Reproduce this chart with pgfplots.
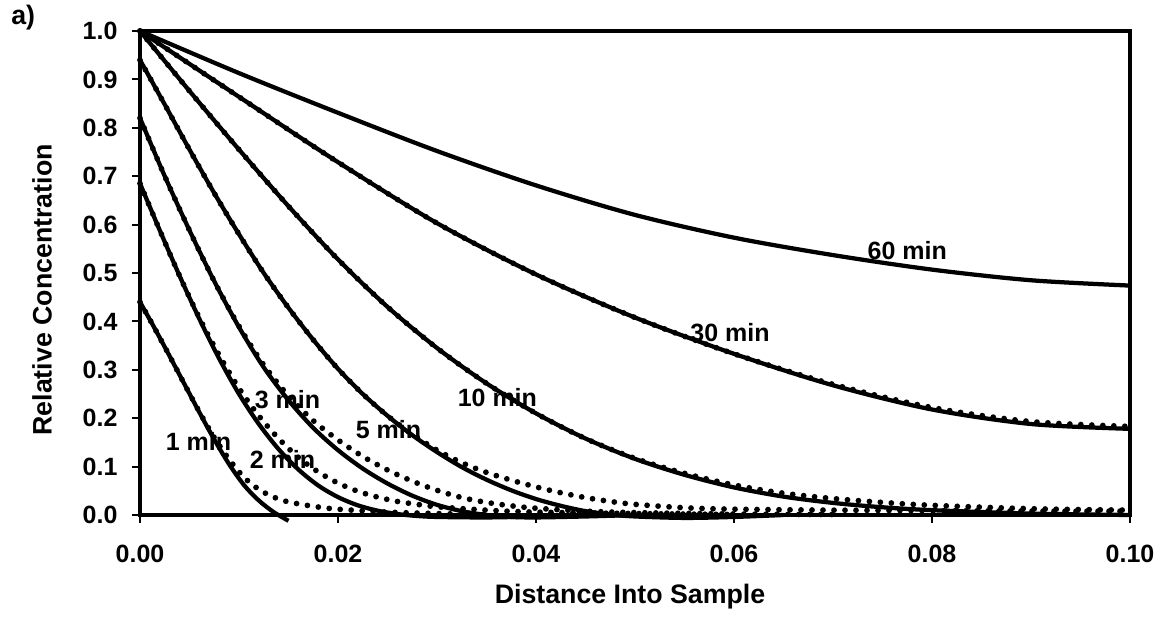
\documentclass[border=0pt]{standalone}
\usepackage{fontspec}
\setmainfont{Liberation Sans}
\usepackage{pgfplots}
\pgfplotsset{compat=1.18}
\begin{document}
\begin{tikzpicture}[font=\bfseries]
\begin{axis}[
  at={(0,0)}, anchor=south west,
  scale only axis, width=396pt, height=193.6pt,
  xmin=0, xmax=0.1, ymin=0, ymax=1,
  xtick={0,0.02,0.04,0.06,0.08,0.1},
  ytick={0,0.1,0.2,0.3,0.4,0.5,0.6,0.7,0.8,0.9,1},
  scaled x ticks=false, scaled y ticks=false,
  /pgf/number format/assume math mode=true,
  xticklabel style={/pgf/number format/fixed, /pgf/number format/fixed zerofill, /pgf/number format/precision=2, yshift=-5.5pt},
  yticklabel style={/pgf/number format/fixed, /pgf/number format/fixed zerofill, /pgf/number format/precision=1, xshift=-2.5pt},
  tick label style={font=\fontsize{10}{12}\selectfont\bfseries},
  tick align=outside, major tick length=3pt,
  xtick pos=bottom, ytick pos=left,
  tick style={line width=0.8pt, black},
  axis line style={line width=1.3pt},
  clip=false,
  xlabel={Distance Into Sample},
  ylabel={Relative Concentration},
  label style={font=\fontsize{10.7}{12}\selectfont\bfseries},
  xlabel style={at={(axis description cs:0.495,-0.169)}, anchor=center},
  ylabel style={at={(axis description cs:-0.099,0.465)}, anchor=center},
  every axis plot/.append style={black, smooth, tension=0.5},
  dots/.style={line width=2.3pt, line cap=round, dash pattern=on 0pt off 4.4pt},
  sol/.style={line width=1.7pt},
]
% ---------- dotted series ----------
\addplot[dots] coordinates {(0,0.44)(0.0015,0.385)(0.003,0.328)(0.0045,0.27)(0.006,0.213)(0.0075,0.16)(0.009,0.115)(0.0105,0.078)(0.012,0.053)(0.0135,0.037)(0.015,0.027)(0.0175,0.018)(0.02,0.012)(0.025,0.006)(0.03,0.003)(0.035,0.001)};
\addplot[dots] coordinates {(0,0.685)(0.002,0.588)(0.004,0.494)(0.006,0.407)(0.008,0.33)(0.01,0.262)(0.012,0.205)(0.014,0.158)(0.016,0.119)(0.018,0.089)(0.02,0.066)(0.022,0.049)(0.024,0.037)(0.026,0.028)(0.028,0.022)(0.03,0.017)(0.035,0.01)(0.04,0.006)(0.05,0.003)(0.06,0.001)};
\addplot[dots] coordinates {(0,0.82)(0.0025,0.70)(0.005,0.588)(0.0075,0.483)(0.01,0.39)(0.0125,0.31)(0.015,0.246)(0.0175,0.195)(0.02,0.155)(0.0225,0.121)(0.025,0.093)(0.0275,0.07)(0.03,0.051)(0.0325,0.036)(0.035,0.026)(0.0375,0.019)(0.04,0.014)(0.045,0.008)(0.05,0.005)(0.06,0.002)(0.07,0.001)};
\addplot[dots] coordinates {(0,0.94)(0.0025,0.848)(0.005,0.755)(0.0075,0.665)(0.01,0.58)(0.0125,0.5)(0.015,0.428)(0.0175,0.362)(0.02,0.302)(0.0225,0.25)(0.025,0.205)(0.0275,0.167)(0.03,0.134)(0.0325,0.108)(0.035,0.088)(0.0375,0.072)(0.04,0.058)(0.0425,0.046)(0.045,0.036)(0.0475,0.028)(0.05,0.022)(0.055,0.015)(0.06,0.012)(0.07,0.01)(0.08,0.009)(0.09,0.008)(0.1,0.008)};
\addplot[dots] coordinates {(0,1)(0.005,0.876)(0.01,0.755)(0.015,0.638)(0.02,0.528)(0.025,0.43)(0.03,0.345)(0.035,0.272)(0.04,0.21)(0.045,0.158)(0.05,0.117)(0.055,0.086)(0.06,0.062)(0.065,0.045)(0.07,0.034)(0.075,0.026)(0.08,0.02)(0.09,0.013)(0.1,0.01)};
\addplot[dots] coordinates {(0,1)(0.01,0.864)(0.02,0.729)(0.03,0.603)(0.04,0.497)(0.05,0.408)(0.06,0.333)(0.07,0.27)(0.08,0.222)(0.09,0.193)(0.1,0.183)};
% ---------- solid series ----------
\addplot[sol] coordinates {(0,0.44)(0.0015,0.385)(0.003,0.328)(0.0045,0.27)(0.006,0.212)(0.0075,0.156)(0.009,0.105)(0.0105,0.062)(0.012,0.03)(0.0135,0.006)(0.015,-0.012)};
\addplot[sol] coordinates {(0,0.685)(0.002,0.588)(0.004,0.494)(0.006,0.405)(0.008,0.323)(0.01,0.25)(0.012,0.188)(0.014,0.136)(0.016,0.094)(0.018,0.061)(0.02,0.037)(0.022,0.02)(0.024,0.009)(0.026,0.002)(0.028,-0.002)(0.03,-0.004)(0.035,-0.005)(0.04,-0.003)(0.045,0)};
\addplot[sol] coordinates {(0,0.82)(0.0025,0.70)(0.005,0.588)(0.0075,0.483)(0.01,0.388)(0.0125,0.305)(0.015,0.237)(0.0175,0.18)(0.02,0.134)(0.0225,0.096)(0.025,0.065)(0.0275,0.04)(0.03,0.021)(0.0325,0.008)(0.035,0.0)(0.0375,-0.004)(0.04,-0.005)(0.045,-0.003)(0.05,0)};
\addplot[sol] coordinates {(0,0.94)(0.0025,0.848)(0.005,0.755)(0.0075,0.665)(0.01,0.58)(0.0125,0.5)(0.015,0.428)(0.0175,0.362)(0.02,0.302)(0.0225,0.25)(0.025,0.205)(0.0275,0.165)(0.03,0.13)(0.0325,0.099)(0.035,0.073)(0.0375,0.051)(0.04,0.033)(0.0425,0.019)(0.045,0.008)(0.0475,0.001)(0.05,-0.003)(0.055,-0.006)(0.06,-0.004)(0.065,0)};
\addplot[sol] coordinates {(0,1)(0.005,0.876)(0.01,0.755)(0.015,0.638)(0.02,0.528)(0.025,0.43)(0.03,0.345)(0.035,0.272)(0.04,0.21)(0.045,0.158)(0.05,0.116)(0.055,0.083)(0.06,0.057)(0.065,0.038)(0.07,0.025)(0.075,0.016)(0.08,0.01)(0.09,0.003)(0.1,0)};
\addplot[sol] coordinates {(0,1)(0.01,0.864)(0.02,0.729)(0.03,0.603)(0.04,0.497)(0.05,0.408)(0.06,0.333)(0.07,0.268)(0.08,0.218)(0.09,0.188)(0.1,0.178)};
\addplot[sol] coordinates {(0,1)(0.01,0.913)(0.02,0.831)(0.03,0.752)(0.04,0.681)(0.05,0.62)(0.06,0.573)(0.07,0.537)(0.08,0.507)(0.09,0.485)(0.1,0.474)};
% ---------- labels ----------
\begin{scope}[every node/.style={font=\fontsize{10}{12}\selectfont\bfseries}]
\node at (axis cs:0.0059,0.151) {1 min};
\node at (axis cs:0.0144,0.114) {2 min};
\node at (axis cs:0.0149,0.238) {3 min};
\node at (axis cs:0.0251,0.176) {5 min};
\node at (axis cs:0.0361,0.242) {10 min};
\node at (axis cs:0.0596,0.376) {30 min};
\node at (axis cs:0.0775,0.547) {60 min};
\end{scope}
\node[font=\fontsize{10.7}{12}\selectfont\bfseries] at (axis description cs:-0.118,1.027) {a)};
\end{axis}
\pgfresetboundingbox
\path[use as bounding box] (current axis.south west) ++(-56pt,-42.8pt) rectangle ++(467.2pt,248.8pt);
\end{tikzpicture}
\end{document}
